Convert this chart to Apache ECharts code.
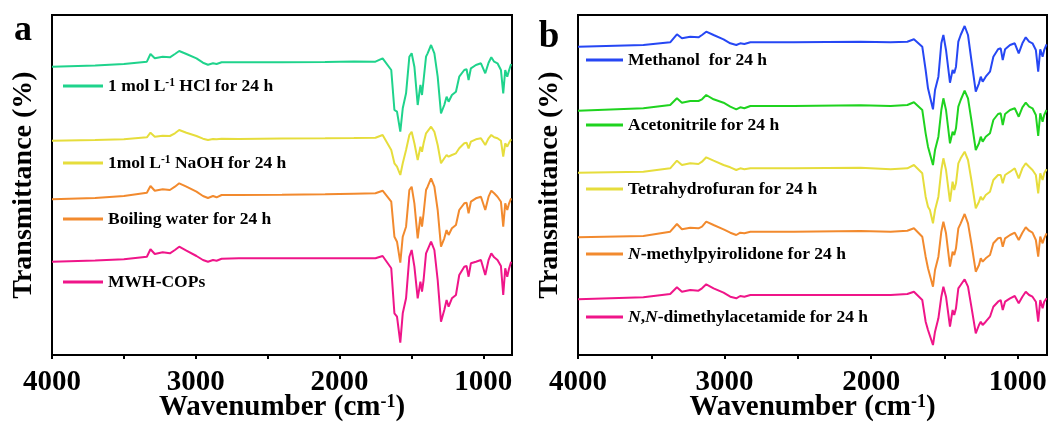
<!DOCTYPE html>
<html>
<head>
<meta charset="utf-8">
<script src="https://cdn.jsdelivr.net/npm/echarts@6/dist/echarts.min.js"></script>
<style>
  html, body { margin: 0; padding: 0; background: #fff; }
  #chart { width: 1049px; height: 423px; }
</style>
</head>
<body>
<div id="chart"></div>
<script>
// wavenumber axis ticks
const labelValues = [4000, 3000, 2000, 1000];
const tickValues = [4000, 3500, 3000, 2500, 2000, 1500, 1000];

// panel a: stability in acid / base / water (offset transmittance, arb. units)
const wavenumberA = [4000, 3700, 3500, 3340, 3315, 3285, 3230, 3180, 3145, 3115, 3065, 2995, 2950, 2915, 2880, 2855, 2820, 2700, 2400, 2100, 1900, 1750,
  1700, 1640, 1618, 1600, 1577, 1560, 1537, 1514, 1498, 1479, 1456, 1437, 1426, 1415, 1398, 1387, 1363, 1340, 1317, 1294, 1271, 1255, 1241, 1218, 1190, 1167,
  1132, 1116, 1102, 1086, 1051, 1016, 986, 963, 944, 924, 901, 877, 861, 847, 833, 820, 806];
const hclA = [288.3, 289.5, 291, 293.3, 301, 296.7, 298.3, 297.7, 301, 304, 301, 296.7, 292.3, 290.3, 291.7, 291, 292.7, 292.7, 292.7, 293, 293.5, 293.3,
  296.7, 285, 245, 243.3, 223.3, 246.7, 261.7, 298.3, 301.7, 288.3, 250, 270, 260, 275, 298.3, 301.7, 310, 301.7, 278.3, 241.7, 250, 258.3, 253.3, 260, 263.3, 278.3,
  285, 285.7, 275, 286.7, 290, 291.7, 281.7, 292.3, 297.7, 293.3, 291.7, 285, 261.7, 285, 278.3, 285, 291];
const naohA = [214.3, 215, 215.7, 217.7, 222.3, 218.3, 219.3, 219, 221.7, 225, 222.3, 219, 216.3, 215, 216, 215.7, 216.3, 216, 216.5, 216.7, 217, 217.3,
  220, 205, 191.7, 188.3, 180, 191.7, 205, 220, 223.3, 211.7, 195, 208.3, 203.3, 211.7, 221.7, 223.3, 228.3, 223.3, 210, 191.7, 196.7, 200, 198.3, 200, 201.7, 206.7,
  211.7, 212.3, 206.7, 213.3, 215.7, 216.7, 210, 216.7, 220, 217.7, 216.7, 214.3, 198.3, 211.7, 208.3, 212.3, 215.7];
const waterA = [155.7, 157, 159, 162.3, 169, 164.3, 165.7, 165, 168.3, 171.7, 168.3, 163.3, 159, 157, 159, 157.7, 160, 160, 160.3, 160.7, 161.3, 161.7,
  164.3, 153.3, 118.3, 113.3, 92.3, 118.3, 128.3, 165, 168.3, 151.7, 116.7, 138.3, 128.3, 141.7, 165, 168.3, 176.7, 168.3, 145, 108.3, 116.7, 125, 120, 126.7, 130, 145,
  151.7, 152.3, 141.7, 153.3, 156.7, 158.3, 145, 158.3, 164.3, 161.7, 158.3, 153.3, 128.3, 151.7, 145, 151.7, 156.7];
const mwhA = [93.3, 94.5, 95.7, 98.3, 105.7, 101, 102.7, 101.7, 105, 108.3, 104.3, 99, 95, 93.3, 95, 94.3, 96.3, 96.7, 96.7, 96.7, 96.8, 96.7,
  99, 86.7, 41.7, 38.3, 12.3, 41.7, 56.7, 98.3, 105, 88.3, 56.7, 73.3, 63.3, 75, 101.7, 103.3, 113.3, 105, 75, 33.3, 45, 55, 48.3, 56.7, 60, 80,
  88.3, 89, 78.3, 91.7, 93.3, 95, 80, 95, 101.7, 97.7, 95, 89, 60, 86.7, 78.3, 86.7, 93.3];

// panel b: stability in organic solvents
const wavenumberB = [4000, 3554, 3371, 3325, 3291, 3234, 3178, 3154, 3125, 3075, 3007, 2961, 2920, 2893, 2865, 2824, 2530, 2072, 1867, 1753,
  1708, 1651, 1628, 1612, 1599, 1578, 1564, 1541, 1521, 1507, 1489, 1462, 1444, 1433, 1421, 1405, 1389, 1362, 1339, 1316, 1286, 1264, 1252, 1239, 1218, 1189,
  1166, 1134, 1116, 1102, 1086, 1052, 1020, 993, 968, 945, 922, 899, 876, 860, 846, 830, 819, 803];
const methanolB = [308.3, 310, 312.7, 320.7, 316.7, 318.3, 317.7, 320, 323.3, 320, 315.7, 311.7, 310, 311.7, 311, 312.7, 312.7, 313.3, 312.7, 313.3,
  315.7, 308.3, 285, 266.7, 265, 245.7, 265, 278.3, 311.7, 320, 305, 272.3, 285, 281.7, 288.3, 313.3, 320, 329, 320, 295, 263.3, 271.7, 278.3, 273.3, 278.3, 283.3,
  298.3, 305.7, 306.7, 295, 305.7, 310, 311.7, 301.7, 311.7, 317.7, 313.3, 311.7, 305, 283.3, 305.7, 298.3, 305, 310.7];
const acetonitrileB = [244.3, 246.7, 250, 256.7, 252.3, 254, 254, 255.7, 260, 255.7, 252.3, 248.3, 245.7, 247.7, 246.7, 249, 249, 249.7, 249, 250,
  252.7, 245, 221.7, 208.3, 206.7, 190, 205, 218.3, 245, 256.7, 245, 211.7, 223.3, 220, 226.7, 248.3, 255, 264.3, 256.7, 235, 205, 211.7, 218.3, 213.3, 218.3, 221.7,
  235, 241, 241.7, 230, 241, 245, 246.7, 238.3, 247.7, 252.3, 248.3, 246.7, 240, 219, 241.7, 233.3, 240, 245];
const thfB = [182.3, 183.3, 186.7, 194.3, 190, 191.7, 191, 193.3, 197.7, 194.3, 190, 187.7, 185, 186.7, 185.7, 186.7, 186.7, 187.3, 185.7, 186.7,
  190, 181.7, 158.3, 148.3, 145, 131.7, 145, 158.3, 185, 196.7, 185, 153.3, 173.3, 165, 171.7, 191.7, 196.7, 203.3, 195, 175, 146.7, 153.3, 158.3, 155, 160, 163.3,
  175, 180, 180, 171.7, 180, 183.3, 186.7, 176.7, 186.7, 191.7, 188.3, 185, 180, 161.7, 181.7, 175, 181.7, 185.7];
const nmpB = [117.7, 119, 123.3, 131, 125.7, 127.3, 126.7, 128.3, 133.3, 130, 125.7, 122.3, 120, 122.3, 121.7, 123.3, 123.3, 124, 123.3, 124.3,
  126.7, 118.3, 98.3, 86.7, 85, 68.3, 85, 98.3, 123.3, 133.3, 121.7, 88.3, 103.3, 100, 106.7, 126.7, 131.7, 141, 131.7, 111.7, 83.3, 90, 96.7, 93.3, 96.7, 100,
  111.7, 116.7, 117.3, 108.3, 116.7, 120, 122.3, 115, 122.3, 127.7, 124.3, 122.3, 115, 98.3, 118.3, 111.7, 116.7, 121.7];
const dmacB = [55.7, 57.7, 61, 67.7, 63.3, 65, 64.3, 66.7, 70.7, 66.7, 62.3, 58.3, 56.7, 59, 58.3, 60, 60, 60, 60, 61,
  63.3, 55, 33.3, 25, 23.3, 10, 23.3, 36.7, 58.3, 68.3, 58.3, 28.3, 45, 40, 46.7, 66.7, 70, 75.7, 68.3, 48.3, 21.7, 30, 33.3, 30, 33.3, 38.3,
  48.3, 53.3, 55, 45, 53.3, 56.7, 59, 51.7, 58.3, 63.3, 60, 58.3, 53.3, 33.3, 55, 46.7, 53.3, 56.7];

const namesA = ['1 mol L-1 HCl for 24 h', '1mol L-1 NaOH for 24 h', 'Boiling water for 24 h', 'MWH-COPs'];
const namesB = ['Methanol  for 24 h', 'Acetonitrile for 24 h', 'Tetrahydrofuran for 24 h', 'N-methylpyirolidone for 24 h', 'N,N-dimethylacetamide for 24 h'];

// legend labels with superscripts / italics
const richA = ['1 mol L{sup|-1} HCl for 24 h', '1mol L{sup|-1} NaOH for 24 h', 'Boiling water for 24 h', 'MWH-COPs'];
const richB = ['Methanol  for 24 h', 'Acetonitrile for 24 h', 'Tetrahydrofuran for 24 h', '{it|N}-methylpyirolidone for 24 h', '{it|N},{it|N}-dimethylacetamide for 24 h'];

const colorsA = ['#1fd38c', '#e6dd3c', '#f28a2e', '#ef1589'];
const colorsB = ['#2647f4', '#1fd31f', '#e6dd3c', '#f28a2e', '#ef1589'];
const legendYA = [87, 164, 220, 283];
const legendYB = [61, 126, 190, 255, 318];

const FONT = '"Times New Roman", "Liberation Serif", serif';
const RICH = {
  sup: { fontFamily: FONT, fontSize: 11.5, fontWeight: 'bold', color: '#000', verticalAlign: 'top' },
  it: { fontFamily: FONT, fontSize: 17.5, fontWeight: 'bold', fontStyle: 'italic', color: '#000' }
};

function line(name, xs, ys, color, gi) {
  return {
    type: 'line', name: name, xAxisIndex: gi, yAxisIndex: gi,
    data: xs.map((w, i) => [w, ys[i]]),
    showSymbol: false, symbol: 'none', animation: false,
    lineStyle: { color: color, width: 2 }, itemStyle: { color: color }
  };
}

function legendItem(name, text, left, cy, w) {
  return {
    data: [name], left: left, top: cy - 10, padding: 0,
    icon: 'rect', itemWidth: w, itemHeight: 3, selectedMode: false,
    formatter: () => text,
    textStyle: { fontFamily: FONT, fontSize: 17.5, fontWeight: 'bold', color: '#000', rich: RICH }
  };
}

function xAxis(gi) {
  return {
    type: 'value', gridIndex: gi, min: 800, max: 4000, inverse: true,
    axisLine: { show: true, onZero: false, lineStyle: { color: '#000', width: 2 } },
    axisTick: { show: true, customValues: tickValues, length: 4, lineStyle: { color: '#000', width: 2 } },
    axisLabel: {
      customValues: labelValues, formatter: v => String(v),
      color: '#000', fontFamily: FONT, fontSize: 29, fontWeight: 'bold', margin: 13
    },
    splitLine: { show: false },
    name: 'Wavenumber (cm{sup|-1})', nameLocation: 'middle', nameGap: 38, nameMoveOverlap: false,
    nameTextStyle: {
      fontFamily: FONT, fontSize: 29, fontWeight: 'bold', color: '#000',
      rich: { sup: { fontFamily: FONT, fontSize: 18, fontWeight: 'bold', color: '#000', verticalAlign: 'top' } }
    }
  };
}

function yAxis(gi) {
  return {
    type: 'value', gridIndex: gi, min: 0, max: 340,
    axisLine: { show: false }, axisTick: { show: false }, axisLabel: { show: false }, splitLine: { show: false },
    name: 'Transmittance (%)', nameLocation: 'middle', nameGap: 14, nameRotate: 90, nameMoveOverlap: false,
    nameTextStyle: { fontFamily: FONT, fontSize: 28, fontWeight: 'bold', color: '#000' }
  };
}

const series = [];
const legends = [];
[hclA, naohA, waterA, mwhA].forEach((ys, i) => {
  series.push(line(namesA[i], wavenumberA, ys, colorsA[i], 0));
  legends.push(legendItem(namesA[i], richA[i], 63, legendYA[i], 40));
});
[methanolB, acetonitrileB, thfB, nmpB, dmacB].forEach((ys, i) => {
  series.push(line(namesB[i], wavenumberB, ys, colorsB[i], 1));
  legends.push(legendItem(namesB[i], richB[i], 586, legendYB[i], 37));
});

const chart = echarts.init(document.getElementById('chart'));
chart.setOption({
  animation: false,
  backgroundColor: '#fff',
  grid: [
    { left: 52, right: 537, top: 15, height: 340, show: true, borderColor: '#000', borderWidth: 2, outerBoundsMode: 'none', containLabel: false },
    { left: 578, right: 2, top: 15, height: 340, show: true, borderColor: '#000', borderWidth: 2, outerBoundsMode: 'none', containLabel: false }
  ],
  xAxis: [xAxis(0), xAxis(1)],
  yAxis: [yAxis(0), yAxis(1)],
  legend: legends,
  graphic: [
    { type: 'text', x: 23, y: 31, style: { text: 'a', font: 'bold 36px ' + FONT, fill: '#000', align: 'center', verticalAlign: 'middle' } },
    { type: 'text', x: 549, y: 37, style: { text: 'b', font: 'bold 37px ' + FONT, fill: '#000', align: 'center', verticalAlign: 'middle' } }
  ],
  series: series
});
</script>
</body>
</html>
